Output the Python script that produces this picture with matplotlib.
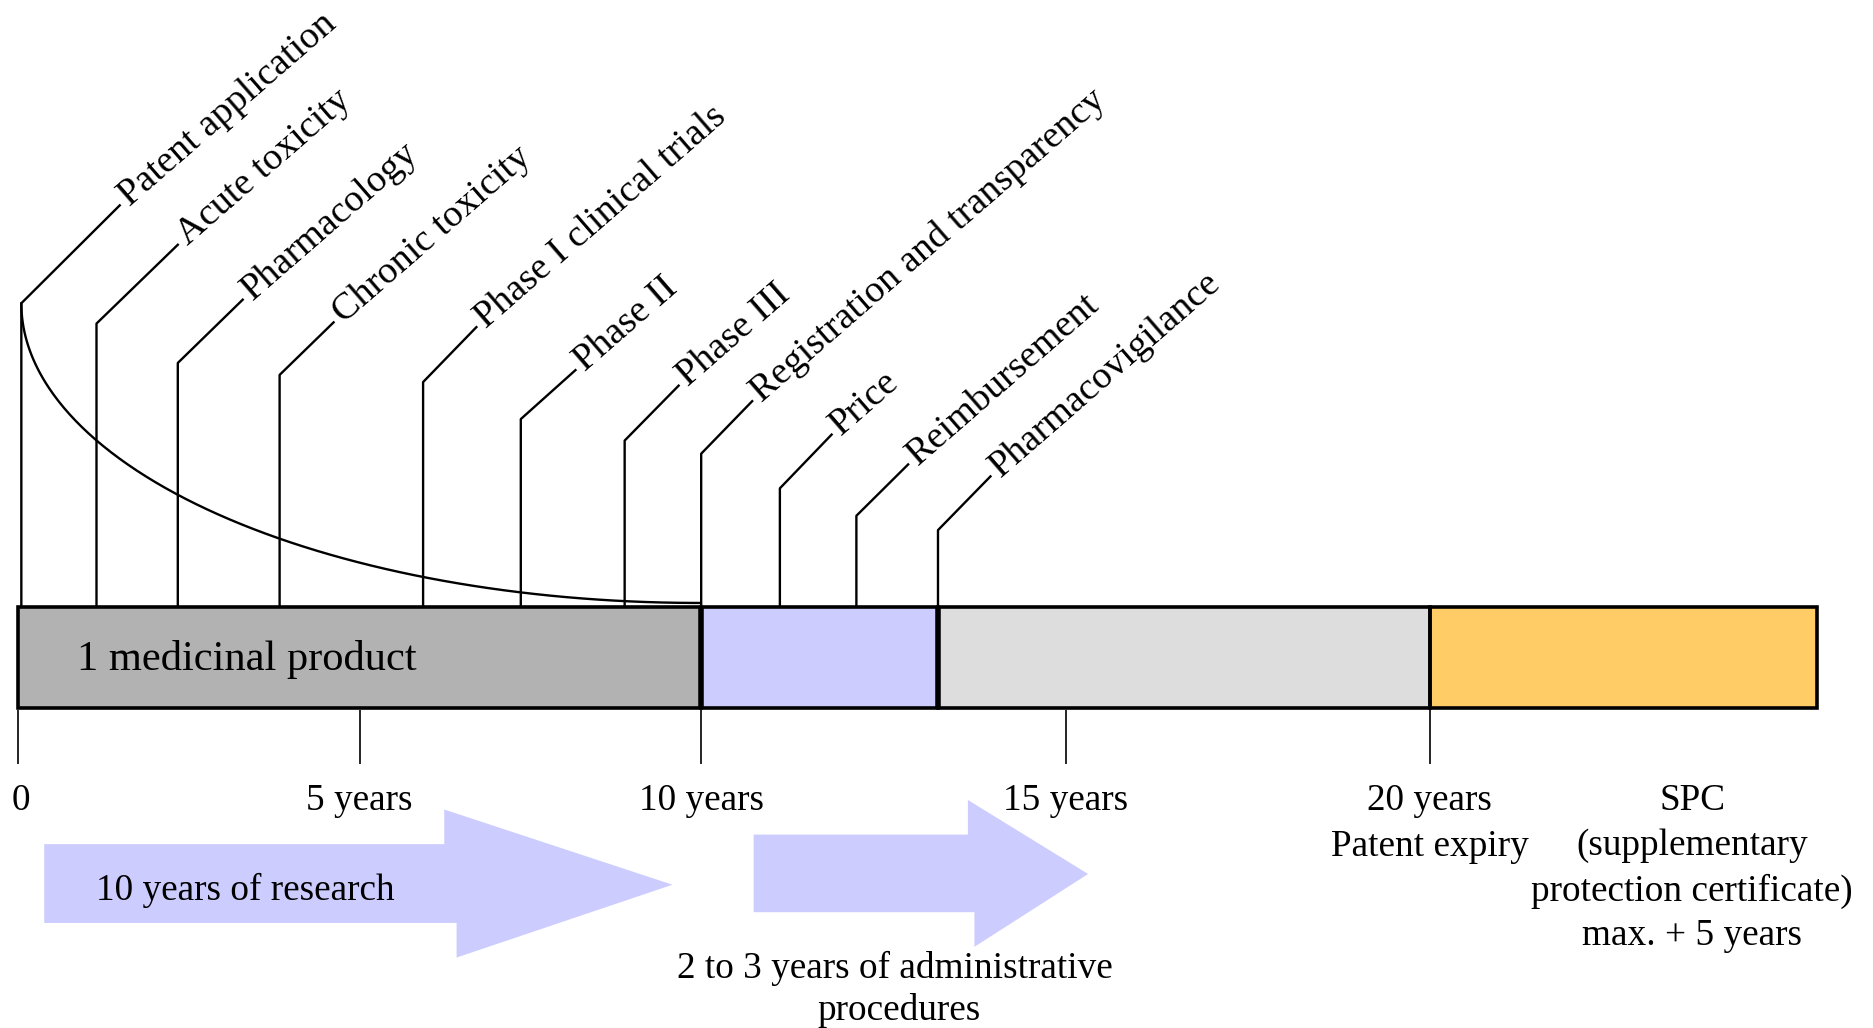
import numpy as np
import matplotlib
matplotlib.use('Agg')
import matplotlib.pyplot as plt
from matplotlib.patches import Rectangle, Polygon

plt.rcParams['font.family'] = ['Liberation Serif', 'DejaVu Serif']

# milestones above the bar (position on the time line, in years)
milestones = ['Patent application', 'Acute toxicity', 'Pharmacology', 'Chronic toxicity',
              'Phase I clinical trials', 'Phase II', 'Phase III',
              'Registration and transparency', 'Price', 'Reimbursement', 'Pharmacovigilance']
milestone_year = [0.05, 1.15, 2.34, 3.83, 5.93, 7.36, 8.88, 10.0, 11.08, 12.13, 13.25]
label_year = [1.49, 2.34, 3.29, 4.62, 6.71, 8.16, 9.67, 10.70, 11.79, 12.84, 13.97]
stem_top = [254, 271, 304, 314, 320, 351, 369, 380, 409, 432, 444]
label_y = [172, 205, 251, 270, 274, 310, 323, 336, 364, 389, 399]

# the bar: research / admin / protected market / SPC
segments = [0, 10, 13.25, 20, 25.31]
seg_colors = ['#b2b2b2', '#ccccff', '#dddddd', '#ffcc66']

tick_years = [0, 5, 10, 15, 20]
tick_labels = ['0', '5 years', '10 years', '15 years', '20 years']

# block arrows below the axis (years, vertical layout units)
arrow1_x = [0.385, 6.24, 6.24, 9.58, 6.42, 6.42, 0.385]
arrow1_y = [707, 707, 678, 741, 802, 773, 773]
arrow2_x = [10.72, 13.66, 13.66, 15.31, 13.75, 13.75, 10.72]
arrow2_y = [699, 699, 670, 732, 793, 764, 764]

# time line is drawn a bit faster before year 10 than after it
brk_years = [-10, 0, 10, 40]
brk_px = [15 - 572, 15, 587, 587 + 30 * 61]
def fwd(v):
    return np.interp(v, brk_years, brk_px)
def inv(p):
    return np.interp(p, brk_px, brk_years)

fig = plt.figure(figsize=(18.73, 10.28), dpi=100)
ax = fig.add_axes([0, 0, 1, 1])
ax.set_xscale('function', functions=(fwd, inv))
ax.set_xlim(inv(0), inv(1568))
ax.set_ylim(861, 0)
ax.axis('off')

bar_top, bar_bot = 508, 593
fs = 26.8

# segments of the bar
for i in range(len(seg_colors)):
    ax.add_patch(Rectangle((segments[i], bar_top), segments[i + 1] - segments[i], bar_bot - bar_top,
                           facecolor=seg_colors[i], edgecolor='black', lw=2.6, zorder=2))
ax.vlines(segments[1:3], bar_top, bar_bot, color='black', lw=4, zorder=3)
ax.vlines(segments[3], bar_top, bar_bot, color='black', lw=1.8, zorder=3)
ax.text(0.87, 552, '1 medicinal product', fontsize=30.6, ha='left', va='center', zorder=4)

# stems, diagonal leaders and rotated labels
for i, name in enumerate(milestones):
    ax.plot([milestone_year[i], milestone_year[i], label_year[i]],
            [bar_top, stem_top[i], label_y[i]], color='black', lw=1.7, zorder=1)
    ax.annotate(name, (label_year[i], label_y[i]), xytext=(7, -1), textcoords='offset points',
                fontsize=27.5, rotation=41, rotation_mode='anchor', ha='left', va='baseline')

# curve from the patent application down to year 10
t = np.linspace(0, np.pi / 2, 200)
cx = 9.97 - (9.97 - milestone_year[0]) * np.cos(t)
cy = stem_top[0] + (505 - stem_top[0]) * np.sin(t)
ax.plot(cx, cy, color='black', lw=1.7, zorder=1)

# ticks under the bar
ax.vlines(tick_years, bar_bot + 2, 640, color='black', lw=1.2)
for yr, lab in zip(tick_years, tick_labels):
    ax.text(yr if yr > 0 else 0.05, 671, lab, fontsize=fs, ha='center', va='center')
ax.text(20, 709, 'Patent expiry', fontsize=fs, ha='center', va='center')

spc_lines = ['SPC', '(supplementary', 'protection certificate)', 'max. + 5 years']
for k, line in enumerate(spc_lines):
    ax.text(23.6, 671 + k * 37.7, line, fontsize=fs, ha='center', va='center')

# arrows
ax.add_patch(Polygon(list(zip(arrow1_x, arrow1_y)), closed=True, facecolor='#ccccff',
                     edgecolor='none', zorder=0))
ax.add_patch(Polygon(list(zip(arrow2_x, arrow2_y)), closed=True, facecolor='#ccccff',
                     edgecolor='none', zorder=0))
ax.text(1.14, 746, '10 years of research', fontsize=fs, ha='left', va='center')
ax.text(12.66, 811, '2 to 3 years of administrative', fontsize=fs, ha='center', va='center')
ax.text(12.71, 846, 'procedures', fontsize=fs, ha='center', va='center')

fig.savefig('out.png', dpi=100)
